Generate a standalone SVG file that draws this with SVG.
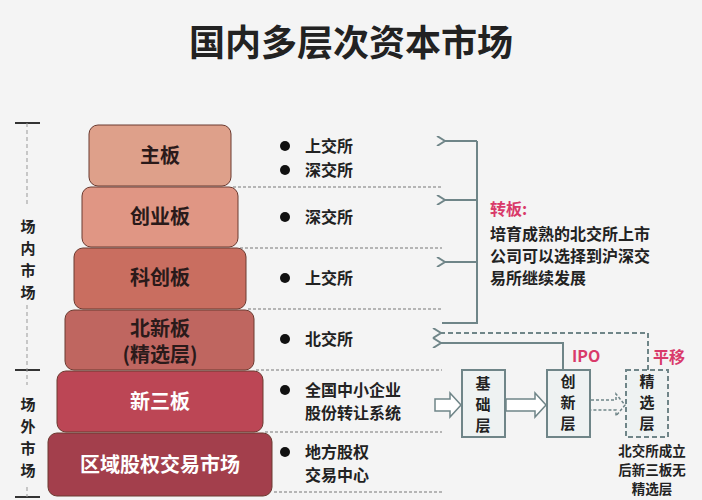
<svg xmlns="http://www.w3.org/2000/svg" width="702" height="500" viewBox="0 0 702 500">
<defs>
<style>
text{font-family:"Noto Sans CJK SC","Noto Sans",sans-serif;font-weight:bold;fill:#222}
.lv{font-size:20px;text-anchor:middle;fill:#2a1a1a}
.lw{font-size:20px;text-anchor:middle;fill:#fff}
.t{font-size:16px}
.sep{stroke:#777;stroke-width:1;stroke-dasharray:3 2}
.con{stroke:#6f8588;stroke-width:2;fill:none}
.box{fill:#eef2f2;stroke:#6f8588;stroke-width:2}
.bt{font-size:15px;text-anchor:middle}
.pk{fill:#d93a6a}
</style>
<marker id="ah" markerWidth="10" markerHeight="10" refX="1" refY="5" orient="auto" markerUnits="userSpaceOnUse"><path d="M9,0 L1,5 L9,10" fill="none" stroke="#6f8588" stroke-width="2"/></marker>
</defs>
<rect width="702" height="500" fill="#f4f4f4"/>
<text x="351" y="56" style="font-size:36px;text-anchor:middle" fill="#111">国内多层次资本市场</text>
<g id="bracket" stroke="#333" stroke-width="2">
<line x1="15" y1="123" x2="40" y2="123"/><line x1="15" y1="370" x2="40" y2="370"/><line x1="15" y1="497" x2="40" y2="497"/>
<line x1="27" y1="123" x2="27" y2="497" stroke="#999" stroke-width="1" stroke-dasharray="4 3"/>
</g>
<rect x="18" y="205" width="20" height="100" fill="#f4f4f4"/><rect x="18" y="385" width="20" height="100" fill="#f4f4f4"/>
<g style="font-size:15px;text-anchor:middle"><text x="28" y="232">场</text><text x="28" y="254">内</text><text x="28" y="276">市</text><text x="28" y="298">场</text>
<text x="28" y="410">场</text><text x="28" y="432">外</text><text x="28" y="454">市</text><text x="28" y="476">场</text></g>
<g id="seps"><line class="sep" x1="233" y1="187" x2="442" y2="187"/><line class="sep" x1="240" y1="248" x2="442" y2="248"/><line class="sep" x1="248" y1="309" x2="442" y2="309"/><line class="sep" x1="256" y1="370" x2="442" y2="370"/><line class="sep" x1="265" y1="432" x2="442" y2="432"/><line class="sep" x1="274" y1="492" x2="442" y2="492"/></g>
<g id="n1"><rect x="89" y="125" width="142" height="61" rx="9" fill="#dea08a" stroke="#6b3a30" stroke-width="1"/><text class="lv" x="160" y="163">主板</text></g>
<g id="n2"><rect x="82" y="187" width="156" height="60" rx="9" fill="#e09684" stroke="#6b3a30" stroke-width="1"/><text class="lv" x="160" y="224">创业板</text></g>
<g id="n3"><rect x="74" y="248" width="172" height="61" rx="9" fill="#c96e60" stroke="#6b3a30" stroke-width="1"/><text class="lv" x="160" y="285">科创板</text></g>
<g id="n4"><rect x="65" y="310" width="189" height="60" rx="9" fill="#bf6660" stroke="#6b3a30" stroke-width="1"/><text class="lv" x="160" y="336">北新板</text><text class="lv" x="160" y="362">(精选层)</text></g>
<g id="n5"><rect x="57" y="371" width="206" height="61" rx="9" fill="#bc4655" stroke="#6b3a30" stroke-width="1"/><text class="lw" x="160" y="409">新三板</text></g>
<g id="n6"><rect x="48" y="433" width="224" height="63" rx="9" fill="#a33f4c" stroke="#6b3a30" stroke-width="1"/><text class="lw" x="160" y="472">区域股权交易市场</text></g>
<g id="bullets" fill="#111">
<circle cx="285" cy="146" r="5"/><circle cx="285" cy="170" r="5"/><circle cx="285" cy="217" r="5"/><circle cx="285" cy="278" r="5"/><circle cx="285" cy="339" r="5"/><circle cx="285" cy="390" r="5"/><circle cx="285" cy="452" r="5"/>
</g>
<g class="t"><text x="305" y="152">上交所</text><text x="305" y="176">深交所</text><text x="305" y="223">深交所</text><text x="305" y="284">上交所</text><text x="305" y="345">北交所</text>
<text x="305" y="396">全国中小企业</text><text x="305" y="419">股份转让系统</text><text x="305" y="458">地方股权</text><text x="305" y="481">交易中心</text></g>
<g id="connectors">
<path class="con" d="M442,323 H477 V141"/>
<line class="con" x1="477" y1="141" x2="445" y2="141" marker-end="url(#ah)"/>
<line class="con" x1="477" y1="200" x2="445" y2="200" marker-end="url(#ah)"/>
<line class="con" x1="477" y1="262" x2="445" y2="262" marker-end="url(#ah)"/>
<path class="con" d="M563,370 V343 H441" marker-end="url(#ah)"/>
<path class="con" d="M648,370 V333 H441" stroke-dasharray="5 3" stroke-width="1.5" marker-end="url(#ah)"/>
<path d="M435,399 H450 V393 L461,405 L450,417 V411 H435 Z" fill="#fff" stroke="#6f8588" stroke-width="1.5"/>
<path d="M506,399 H535 V393 L546,405 L535,417 V411 H506 Z" fill="#fff" stroke="#6f8588" stroke-width="1.5"/>
<path d="M591,400 H616 V394 L625,405 L616,416 V410 H591" fill="none" stroke="#6f8588" stroke-width="1.5" stroke-dasharray="3 2"/>
</g>
<g id="b1"><rect class="box" x="462" y="370" width="43" height="67"/><text class="bt" x="483" y="389">基</text><text class="bt" x="483" y="410">础</text><text class="bt" x="483" y="431">层</text></g>
<g id="b2"><rect class="box" x="547" y="370" width="43" height="67"/><text class="bt" x="568" y="387">创</text><text class="bt" x="568" y="408">新</text><text class="bt" x="568" y="429">层</text></g>
<g id="b3"><rect x="626" y="370" width="42" height="67" fill="#eef2f2" stroke="#6f8588" stroke-width="2" stroke-dasharray="5 3"/><text class="bt" x="647" y="387">精</text><text class="bt" x="647" y="408">选</text><text class="bt" x="647" y="429">层</text></g>
<text class="pk" x="572" y="362" style="font-size:16px">IPO</text>
<text class="pk" x="653" y="363" style="font-size:16px">平移</text>
<text class="pk" x="490" y="215" style="font-size:16px">转板:</text>
<g class="t"><text x="490" y="240">培育成熟的北交所上市</text><text x="490" y="262">公司可以选择到沪深交</text><text x="490" y="284">易所继续发展</text></g>
<g style="font-size:13.5px;text-anchor:middle"><text x="652" y="456">北交所成立</text><text x="652" y="475">后新三板无</text><text x="652" y="494">精选层</text></g>
</svg>
